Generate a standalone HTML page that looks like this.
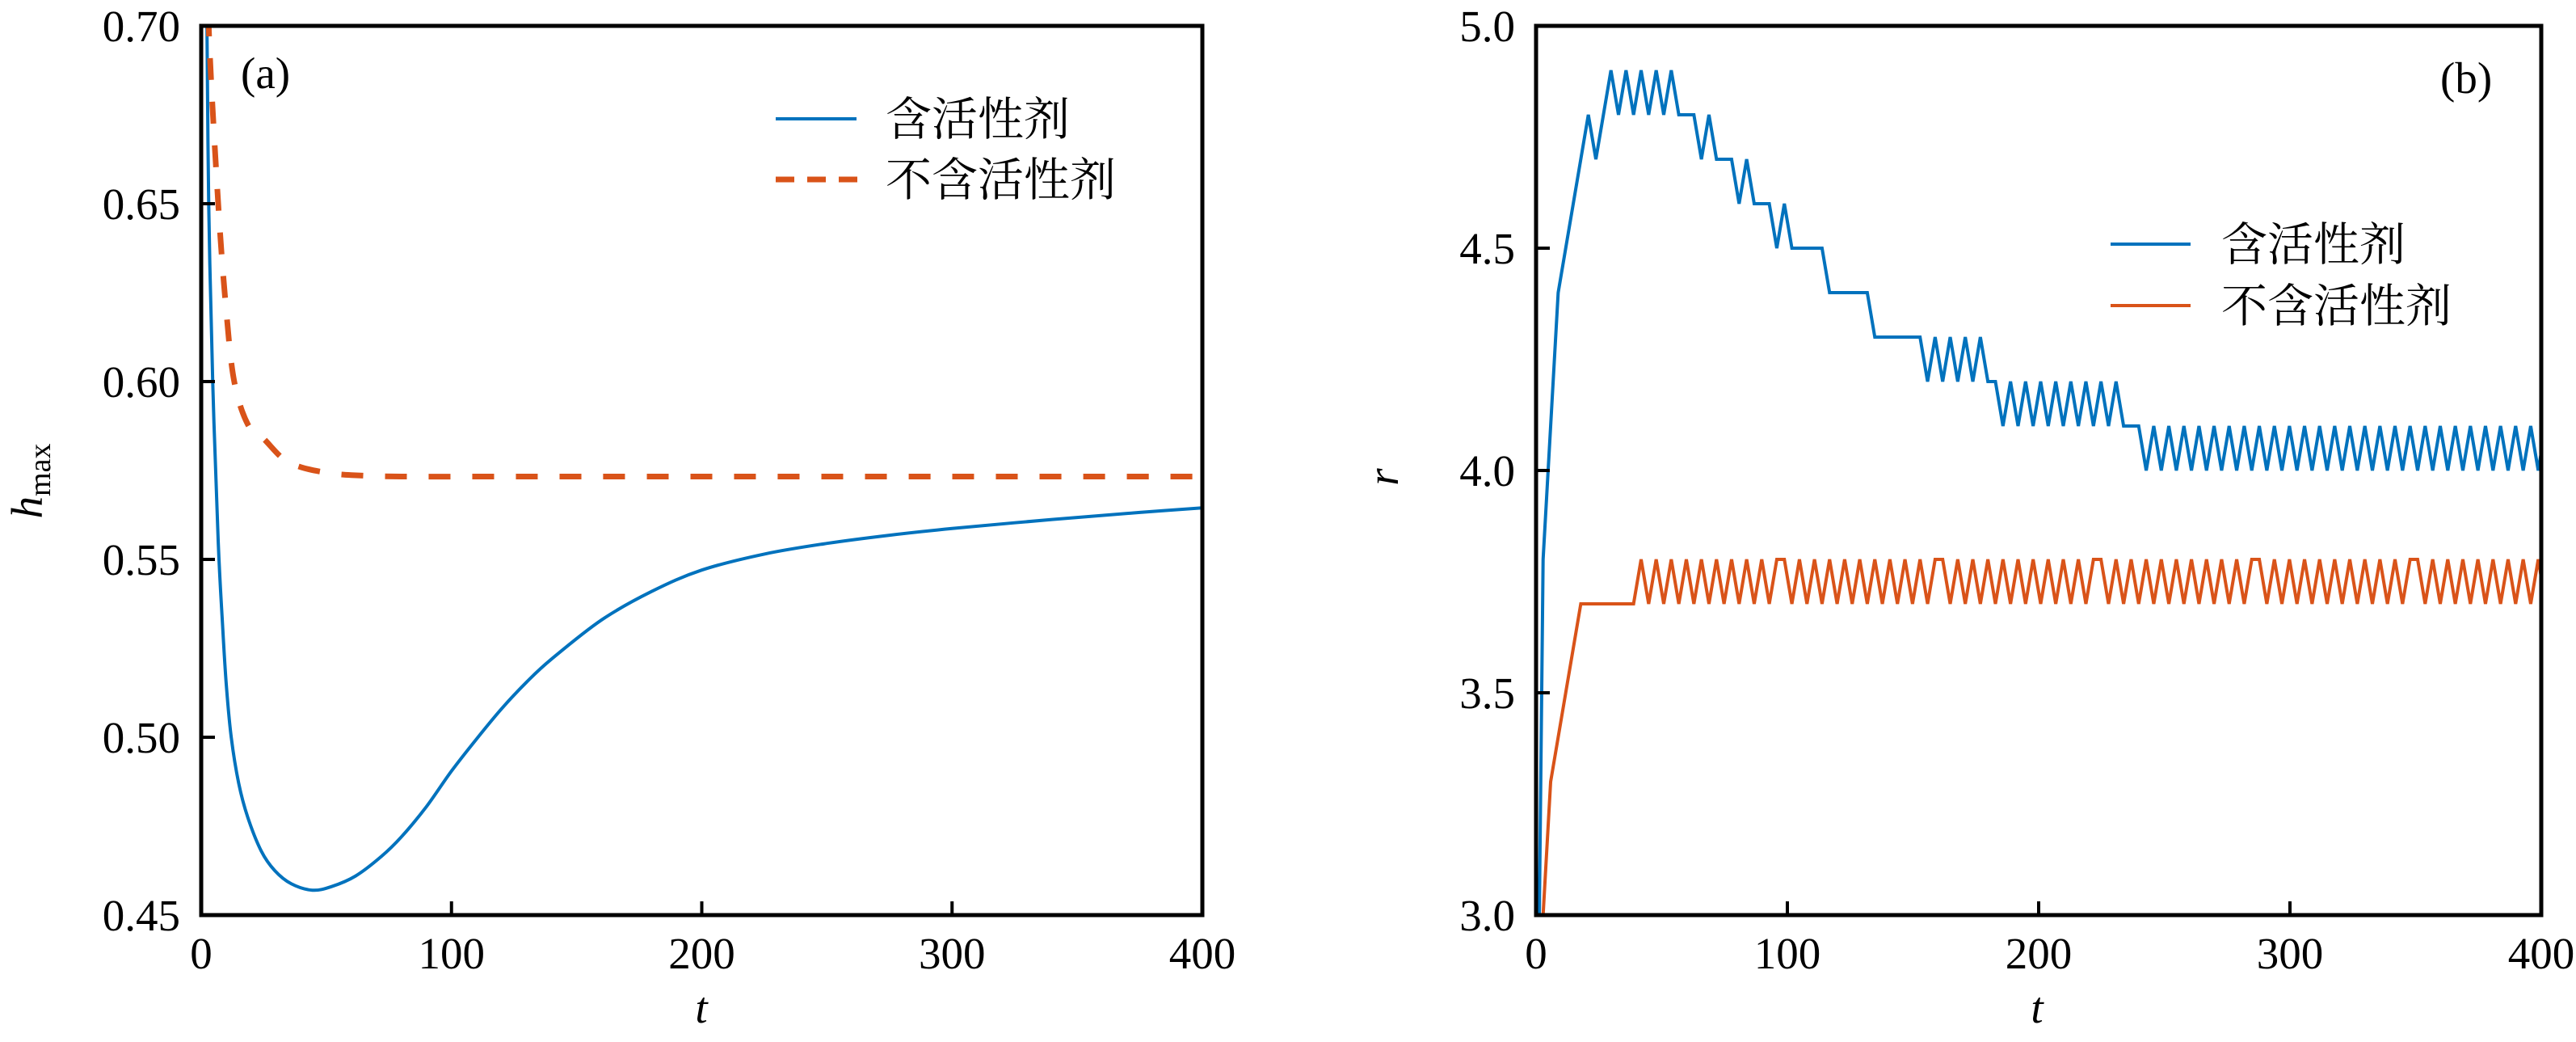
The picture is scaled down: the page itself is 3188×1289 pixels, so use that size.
<!DOCTYPE html>
<html><head><meta charset="utf-8"><style>
html,body{margin:0;padding:0;background:#fff;overflow:hidden;width:3188px;height:1289px;}
svg{display:block;}
.tk{font-family:"Liberation Serif",serif;font-size:55px;fill:#000;}
.lg{font-family:"Liberation Serif","Noto Serif CJK SC",serif;font-size:57px;fill:#000;}
</style></head><body>
<svg id="fig" width="3188" height="1289" viewBox="0 0 3188 1289" xmlns="http://www.w3.org/2000/svg">
<defs>
<clipPath id="clipA"><rect x="249" y="32" width="1239" height="1100"/></clipPath>
<clipPath id="clipB"><rect x="1901" y="32" width="1244" height="1100"/></clipPath>
</defs>
<g id="panelA"></g>
<g id="panelB"></g>
</svg>
<script>
// Panel (a) data
const aBlueT = [1.5,2.3,3.0,4.6,6.8,8.5,10,12,15,18.6,24,29.4,36,44.4,52,61.7,72,80,90,100,110,120,130,140,160,180,200,225,250,275,300,325,350,375,400];
const aBlueV = [0.74,0.70,0.65,0.60,0.555,0.532,0.515,0.500,0.487,0.4775,0.468,0.4625,0.4588,0.457,0.458,0.461,0.4665,0.4720,0.4805,0.4905,0.4995,0.5080,0.5155,0.5220,0.5330,0.5410,0.5470,0.5515,0.5545,0.5568,0.5587,0.5603,0.5618,0.5632,0.5645];
const aOrT = [2.3,3,6.8,10,13.2,18.6,25,32.6,40,50.9,60,80,120,200,300,400];
const aOrV = [0.74,0.70,0.65,0.62,0.60,0.588,0.5839,0.5784,0.5759,0.5743,0.5737,0.5733,0.5733,0.5733,0.5733,0.5733];
const aYTicks = [0.45,0.50,0.55,0.60,0.65,0.70];
const aYLabels = ["0.45","0.50","0.55","0.60","0.65","0.70"];
const xTicks = [0,100,200,300,400];
const xLabels = ["0","100","200","300","400"];
// Panel (b) data: sampled every 3 time units starting at t0
const bT0 = -0.2, bDT = 3;
const bBlueV = [2.2,3.8,4.1,4.4,4.5,4.6,4.7,4.8,4.7,4.8,4.9,4.8,4.9,4.8,4.9,4.8,4.9,4.8,4.9,4.8,4.8,4.8,4.7,4.8,4.7,4.7,4.7,4.6,4.7,4.6,4.6,4.6,4.5,4.6,4.5,4.5,4.5,4.5,4.5,4.4,4.4,4.4,4.4,4.4,4.4,4.3,4.3,4.3,4.3,4.3,4.3,4.3,4.2,4.3,4.2,4.3,4.2,4.3,4.2,4.3,4.2,4.2,
4.1,4.2,4.1,4.2,4.1,4.2,4.1,4.2,4.1,4.2,4.1,4.2,4.1,4.2,4.1,4.2,4.1,4.1,4.1,
4.0,4.1,4.0,4.1,4.0,4.1,4.0,4.1,4.0,4.1,4.0,4.1,4.0,4.1,4.0,4.1,4.0,4.1,4.0,4.1,4.0,4.1,4.0,4.1,4.0,4.1,
4.0,4.1,4.0,4.1,4.0,4.1,4.0,4.1,4.0,4.1,4.0,4.1,4.0,4.1,4.0,4.1,4.0,4.1,4.0,4.1,4.0,4.1,4.0,4.1,4.0,4.1,4.0,4.1];
const bOrV = [2.5,3.0,3.3,3.4,3.5,3.6,3.7,3.7,3.7,3.7,3.7,3.7,3.7,3.7,
3.8,3.7,3.8,3.7,3.8,3.7,3.8,3.7,3.8,3.7,3.8,3.7,3.8,3.7,3.8,3.7,3.8,3.7,3.8,3.8,
3.7,3.8,3.7,3.8,3.7,3.8,3.7,3.8,3.7,3.8,3.7,3.8,3.7,3.8,3.7,3.8,3.7,3.8,3.7,3.8,3.8,
3.7,3.8,3.7,3.8,3.7,3.8,3.7,3.8,3.7,3.8,3.7,3.8,3.7,3.8,3.7,3.8,3.7,3.8,3.7,3.8,3.8,
3.7,3.8,3.7,3.8,3.7,3.8,3.7,3.8,3.7,3.8,3.7,3.8,3.7,3.8,3.7,3.8,3.7,3.8,3.7,3.8,3.8,
3.7,3.8,3.7,3.8,3.7,3.8,3.7,3.8,3.7,3.8,3.7,3.8,3.7,3.8,3.7,3.8,3.7,3.8,3.7,3.8,3.8,
3.7,3.8,3.7,3.8,3.7,3.8,3.7,3.8,3.7,3.8,3.7,3.8,3.7,3.8,3.7,3.8,3.7];
const bYTicks = [3.0,3.5,4.0,4.5,5.0];
const bYLabels = ["3.0","3.5","4.0","4.5","5.0"];
const legendLabels = ["含活性剂","不含活性剂"];

const NS="http://www.w3.org/2000/svg";
function mk(tag, attrs, parent){const e=document.createElementNS(NS,tag);for(const k in attrs)e.setAttribute(k,attrs[k]);parent.appendChild(e);return e;}
const BLUE="#0072bd", ORANGE="#d95319";

function linScale(d0,d1,r0,r1){return v=>r0+(v-d0)/(d1-d0)*(r1-r0);}
function smoothPath(pts){
  let d="M"+pts[0][0].toFixed(2)+","+pts[0][1].toFixed(2);
  for(let i=0;i<pts.length-1;i++){
    const p0=pts[Math.max(0,i-1)],p1=pts[i],p2=pts[i+1],p3=pts[Math.min(pts.length-1,i+2)];
    const c1x=p1[0]+(p2[0]-p0[0])/6,c1y=p1[1]+(p2[1]-p0[1])/6;
    const c2x=p2[0]-(p3[0]-p1[0])/6,c2y=p2[1]-(p3[1]-p1[1])/6;
    d+=" C"+c1x.toFixed(2)+","+c1y.toFixed(2)+" "+c2x.toFixed(2)+","+c2y.toFixed(2)+" "+p2[0].toFixed(2)+","+p2[1].toFixed(2);
  }
  return d;
}

function axes(g,x0,x1,y0,y1,sx,sy,yT,yL,name){
  for(let i=0;i<yT.length;i++){
    const y=sy(yT[i]);
    const tk=mk("line",{x1:x0,y1:y,x2:x0+17,y2:y,stroke:"#000","stroke-width":4},g);
    
    
    const t=mk("text",{x:x0-26,y:y+19,"text-anchor":"end",class:"tk"},g);
    t.textContent=yL[i];
    
    
  }
  for(let i=0;i<xTicks.length;i++){
    const x=sx(xTicks[i]);
    const tk=mk("line",{x1:x,y1:y1,x2:x,y2:y1-17,stroke:"#000","stroke-width":4},g);
    
    
    const t=mk("text",{x:x,y:1198,"text-anchor":"middle",class:"tk"},g);
    t.textContent=xLabels[i];
    
    
  }
}
function frame(g,x0,x1,y0,y1,name){
  const r=mk("rect",{x:x0,y:y0,width:x1-x0,height:y1-y0,fill:"none",stroke:"#000","stroke-width":5},g);
  
  
}

// ---- Panel A ----
(function(){
  const g=document.getElementById("panelA");
  const x0=249,x1=1488,y0=32,y1=1132;
  const sx=linScale(0,400,x0,x1), sy=linScale(0.45,0.70,y1,y0);
  const lg=mk("g",{"clip-path":"url(#clipA)"},g);
  const pb=mk("path",{d:smoothPath(aBlueT.map((t,i)=>[sx(t),sy(aBlueV[i])])),fill:"none",stroke:BLUE,"stroke-width":4},lg);
  
  
  const po=mk("path",{d:smoothPath(aOrT.map((t,i)=>[sx(t),sy(aOrV[i])])),fill:"none",stroke:ORANGE,"stroke-width":7,"stroke-dasharray":"27 27"},lg);
  
  
  axes(g,x0,x1,y0,y1,sx,sy,aYTicks,aYLabels,"a");
  frame(g,x0,x1,y0,y1,"a");
  const pl=mk("text",{x:298,y:109,class:"tk"},g); pl.textContent="(a)";
  
  
  const xl=mk("text",{x:868,y:1265,"text-anchor":"middle",class:"tk","font-style":"italic"},g); xl.textContent="t";
  
  
  const yl=mk("text",{x:0,y:0,class:"tk","font-style":"italic",transform:"translate(52,595) rotate(-90)","text-anchor":"middle"},g);
  yl.innerHTML='h<tspan font-style="normal" font-size="38" dy="10">max</tspan>';
  
  
  const l1=mk("line",{x1:960,y1:147,x2:1060,y2:147,stroke:BLUE,"stroke-width":4},g);
  
  
  const l2=mk("line",{x1:960,y1:222,x2:1062,y2:222,stroke:ORANGE,"stroke-width":7,"stroke-dasharray":"23 16"},g);
  
  
  const t1=mk("text",{x:1096,y:167,class:"lg"},g); t1.textContent=legendLabels[0];
  
  
  const t2=mk("text",{x:1096,y:242,class:"lg"},g); t2.textContent=legendLabels[1];
  
  
})();

// ---- Panel B ----
(function(){
  const g=document.getElementById("panelB");
  const x0=1901,x1=3145,y0=32,y1=1132;
  const sx=linScale(0,400,x0,x1), sy=linScale(3.0,5.0,y1,y0);
  const lg=mk("g",{"clip-path":"url(#clipB)"},g);
  function poly(vals){return vals.map((v,i)=>sx(bT0+i*bDT).toFixed(2)+","+sy(v).toFixed(2)).join(" ");}
  const pb=mk("polyline",{points:poly(bBlueV),fill:"none",stroke:BLUE,"stroke-width":4,"stroke-linejoin":"miter"},lg);
  
  
  const po=mk("polyline",{points:poly(bOrV),fill:"none",stroke:ORANGE,"stroke-width":4,"stroke-linejoin":"miter"},lg);
  
  
  axes(g,x0,x1,y0,y1,sx,sy,bYTicks,bYLabels,"b");
  frame(g,x0,x1,y0,y1,"b");
  const pl=mk("text",{x:3020,y:115,class:"tk"},g); pl.textContent="(b)";
  
  
  const xl=mk("text",{x:2521,y:1265,"text-anchor":"middle",class:"tk","font-style":"italic"},g); xl.textContent="t";
  
  
  const yl=mk("text",{x:0,y:0,class:"tk","font-style":"italic",transform:"translate(1730,590) rotate(-90)","text-anchor":"middle"},g);
  yl.textContent="r";
  
  
  const l1=mk("line",{x1:2612,y1:302,x2:2711,y2:302,stroke:BLUE,"stroke-width":4},g);
  
  
  const l2=mk("line",{x1:2612,y1:378,x2:2711,y2:378,stroke:ORANGE,"stroke-width":4},g);
  
  
  const t1=mk("text",{x:2749,y:322,class:"lg"},g); t1.textContent=legendLabels[0];
  
  
  const t2=mk("text",{x:2749,y:398,class:"lg"},g); t2.textContent=legendLabels[1];
  
  
})();
</script>
</body></html>
